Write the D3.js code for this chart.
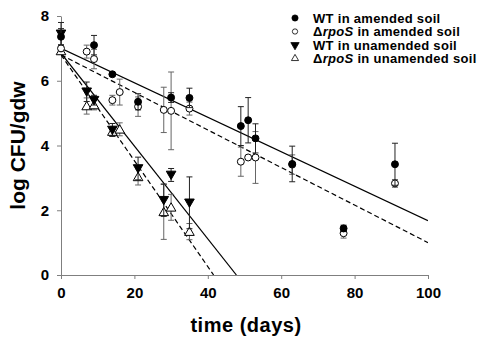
<!DOCTYPE html>
<html>
<head>
<meta charset="utf-8">
<script src="https://cdn.jsdelivr.net/npm/d3@7"></script>
<style>
  body { margin: 0; background: #fff; }
  text { font-family: Arial, "Liberation Sans", sans-serif; font-weight: bold; }
</style>
</head>
<body>
<div id="chart"></div>
<script>
// data: time (days), log CFU/gdw, error
var wtAmendedDays   = [0, 9, 14, 21, 30, 35, 49, 51, 53, 63, 77, 91];
var wtAmendedVals   = [7.36, 7.1, 6.2, 5.35, 5.48, 5.47, 4.6, 4.78, 4.22, 3.43, 1.44, 3.42];
var wtAmendedErr    = [0.25, 0.3, 0.05, 0.25, 0.15, 0.3, 0.6, 0.7, 0.45, 0.55, 0.1, 0.65];

var rpoAmendedDays  = [0, 7, 9, 14, 16, 21, 28, 30, 35, 49, 51, 53, 63, 77, 91];
var rpoAmendedVals  = [7.0, 6.9, 6.67, 5.4, 5.65, 5.2, 5.1, 5.07, 5.14, 3.5, 3.63, 3.63, 3.41, 1.29, 2.83];
var rpoAmendedErr   = [0.1, 0.2, 0.3, 0.15, 0.4, 0.3, 0.7, 1.2, 0.2, 0.45, 0.05, 0.8, 0.3, 0.15, 0.12];

var wtUnamendedDays = [0, 7, 9, 14, 21, 28, 30, 35];
var wtUnamendedVals = [7.45, 5.66, 5.4, 4.48, 3.29, 2.31, 3.09, 2.23];
var wtUnamendedErr  = [0.35, 0.3, 0.15, 0.2, 0.35, 0.5, 0.2, 0.8];

var rpoUnamendedDays = [0, 7, 9, 14, 16, 21, 28, 30, 35];
var rpoUnamendedVals = [6.92, 5.22, 5.25, 4.43, 4.5, 3.03, 1.95, 2.09, 1.34];
var rpoUnamendedErr  = [0.1, 0.25, 0.15, 0.15, 0.2, 0.25, 0.85, 0.4, 0.25];

// fitted lines: [intercept, slope]
var fitWtAmended    = [7.0, -0.0532];
var fitRpoAmended   = [6.8, -0.058];
var fitWtUnamended  = [6.85, -0.1433];
var fitRpoUnamended = [6.8, -0.1635];

var xTicks = [0, 20, 40, 60, 80, 100];
var yTicks = [0, 2, 4, 6, 8];
var legendLabels = [
  ['', 'WT', ' in amended soil'],
  ['\u0394', 'rpoS', ' in amended soil'],
  ['', 'WT', ' in unamended soil'],
  ['\u0394', 'rpoS', ' in unamended soil']
];

var margin = {top: 16, right: 65, bottom: 65, left: 61},
    width = 493 - margin.left - margin.right,
    height = 340 - margin.top - margin.bottom;

var x = d3.scaleLinear().domain([0, 100]).range([0, width]);
var y = d3.scaleLinear().domain([0, 8]).range([height, 0]);

var svg = d3.select('#chart').append('svg')
    .attr('width', 493)
    .attr('height', 340);
var g = svg.append('g')
    .attr('transform', 'translate(' + margin.left + ',' + margin.top + ')');

var axisColor = '#7f7f7f';

// axes
var xAxis = g.append('g')
    .attr('transform', 'translate(0,' + height + ')')
    .call(d3.axisBottom(x).tickValues(xTicks).tickSize(4).tickPadding(7).tickSizeOuter(0));
var yAxis = g.append('g')
    .call(d3.axisLeft(y).tickValues(yTicks).tickSize(4).tickPadding(8).tickSizeOuter(0));
[xAxis, yAxis].forEach(function(a) {
  a.select('.domain').attr('stroke', axisColor);
  a.selectAll('.tick line').attr('stroke', axisColor);
  a.selectAll('.tick text')
    .attr('fill', '#000')
    .style('font-size', '15px')
    .style('font-weight', 'bold')
    .style('font-family', 'Arial, "Liberation Sans", sans-serif');
});
xAxis.selectAll('.tick text').attr('dy', '0.8em');

// axis titles
g.append('text')
  .attr('x', 185).attr('y', height + 57)
  .attr('text-anchor', 'middle')
  .style('font-size', '20px')
  .style('letter-spacing', '0.5px')
  .text('time (days)');
g.append('text')
  .attr('transform', 'translate(-36,' + (height / 2) + ') rotate(-90)')
  .attr('text-anchor', 'middle')
  .style('font-size', '21px')
  .text('log CFU/gdw');

// regression lines, clipped at y = 0
g.append('clipPath').attr('id', 'clip')
  .append('rect').attr('width', width).attr('height', height);
function fitLine(fit, dash) {
  var xEnd = Math.min(100, -fit[0] / fit[1]);
  g.append('line')
    .attr('clip-path', 'url(#clip)')
    .attr('x1', x(0)).attr('y1', y(fit[0]))
    .attr('x2', x(xEnd)).attr('y2', y(fit[0] + fit[1] * xEnd))
    .attr('stroke', '#000')
    .attr('stroke-width', 1.2)
    .attr('stroke-dasharray', dash ? '5,3' : null);
}
fitLine(fitWtAmended, false);
fitLine(fitRpoAmended, true);
fitLine(fitWtUnamended, false);
fitLine(fitRpoUnamended, true);

var triDown = d3.symbol().type(d3.symbolTriangle).size(40);

function series(days, vals, errs, shape, filled, barColor) {
  var data = days.map(function(d, i) { return {t: d, v: vals[i], e: errs[i]}; });
  var s = g.append('g');
  var eb = s.selectAll('.eb').data(data).enter().append('g')
      .attr('stroke', barColor).attr('stroke-width', 1);
  eb.append('line')
    .attr('x1', function(d) { return x(d.t); }).attr('x2', function(d) { return x(d.t); })
    .attr('y1', function(d) { return y(d.v + d.e); }).attr('y2', function(d) { return y(d.v - d.e); });
  eb.append('line')
    .attr('x1', function(d) { return x(d.t) - 3; }).attr('x2', function(d) { return x(d.t) + 3; })
    .attr('y1', function(d) { return y(d.v + d.e); }).attr('y2', function(d) { return y(d.v + d.e); });
  eb.append('line')
    .attr('x1', function(d) { return x(d.t) - 3; }).attr('x2', function(d) { return x(d.t) + 3; })
    .attr('y1', function(d) { return y(d.v - d.e); }).attr('y2', function(d) { return y(d.v - d.e); });
  var m = s.selectAll('.m').data(data).enter().append('path')
      .attr('fill', filled ? '#000' : '#fff')
      .attr('stroke', '#000')
      .attr('stroke-width', 1);
  if (shape === 'circle') {
    m.attr('d', d3.symbol().type(d3.symbolCircle).size(38)())
     .attr('transform', function(d) { return 'translate(' + x(d.t) + ',' + y(d.v) + ')'; });
  } else if (shape === 'down') {
    m.attr('d', triDown())
     .attr('transform', function(d) { return 'translate(' + x(d.t) + ',' + (y(d.v) - 1) + ') rotate(180)'; });
  } else {
    m.attr('d', triDown())
     .attr('transform', function(d) { return 'translate(' + x(d.t) + ',' + (y(d.v) + 1) + ')'; });
  }
}

series(rpoUnamendedDays, rpoUnamendedVals, rpoUnamendedErr, 'up', false, '#666');
series(wtUnamendedDays, wtUnamendedVals, wtUnamendedErr, 'down', true, '#222');
series(rpoAmendedDays, rpoAmendedVals, rpoAmendedErr, 'circle', false, '#666');
series(wtAmendedDays, wtAmendedVals, wtAmendedErr, 'circle', true, '#222');

// legend
var legend = svg.append('g').attr('transform', 'translate(295,18)');
var shapes = [
  {d: d3.symbol().type(d3.symbolCircle).size(30)(), fill: '#000', rot: 0},
  {d: d3.symbol().type(d3.symbolCircle).size(22)(), fill: '#fff', rot: 0},
  {d: d3.symbol().type(d3.symbolTriangle).size(30)(), fill: '#000', rot: 180},
  {d: d3.symbol().type(d3.symbolTriangle).size(22)(), fill: '#fff', rot: 0}
];
legendLabels.forEach(function(lab, i) {
  var row = legend.append('g').attr('transform', 'translate(0,' + (i * 13.5) + ')');
  row.append('path')
    .attr('d', shapes[i].d)
    .attr('transform', 'rotate(' + shapes[i].rot + ')')
    .attr('fill', shapes[i].fill)
    .attr('stroke', '#000')
    .attr('stroke-width', 0.8);
  var t = row.append('text').attr('x', 18).attr('dy', '0.35em')
      .style('font-size', '13px')
      .style('letter-spacing', '0.3px');
  if (lab[0]) {
    t.append('tspan').text(lab[0]);
    t.append('tspan').style('font-style', 'italic').text(lab[1]);
  } else {
    t.append('tspan').text(lab[1]);
  }
  t.append('tspan').text(lab[2]);
});
</script>
</body>
</html>
